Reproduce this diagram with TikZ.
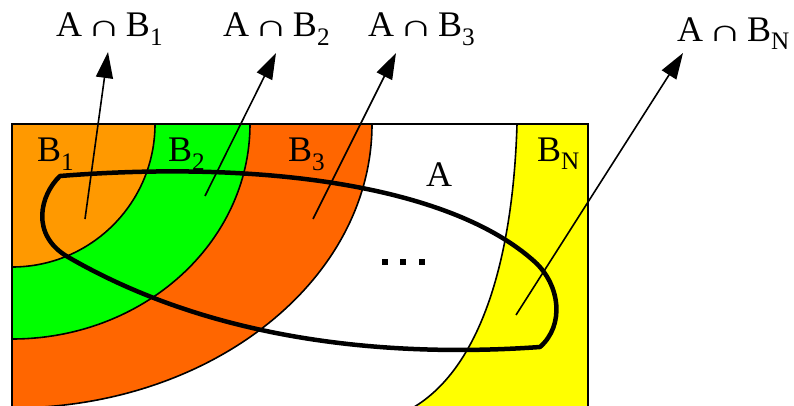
\documentclass[tikz,border=0pt]{standalone}
\usepackage{fontspec}
\setmainfont{Liberation Serif}
\usetikzlibrary{arrows.meta}
\definecolor{cBone}{RGB}{255,153,0}
\definecolor{cBtwo}{RGB}{0,255,0}
\definecolor{cBthree}{RGB}{255,102,0}
\definecolor{cBN}{RGB}{255,255,0}
\newcommand{\intsym}{\hspace{5pt}\scalebox{1.3}[0.85]{∩}\hspace{5pt}}
\tikzset{
  region/.style={draw=black, line width=1.6pt},
  setA/.style={draw=black, line width=4.5pt, line join=round},
  pointer/.style={draw=black, line width=1.6pt, -{Triangle[length=26pt,width=17pt]}},
  lbl/.style={anchor=base west, inner sep=0pt, font=\fontsize{36}{40}\selectfont},
}
\begin{document}
\begin{tikzpicture}[x=1pt,y=-1pt]
\useasboundingbox (0,0) rectangle (794,406);
\clip (0,0) rectangle (794,406);
% regions inside the box
\begin{scope}
  \clip (12,124) rectangle (588,420);
  \fill[cBthree] (12,124) ellipse [x radius=360, y radius=284];
  \fill[cBtwo] (12,124) ellipse [x radius=238, y radius=215];
  \fill[cBone] (12,124) ellipse [x radius=143, y radius=143];
  \draw[region] (12,124) ellipse [x radius=360, y radius=284];
  \draw[region] (12,124) ellipse [x radius=238, y radius=215];
  \draw[region] (12,124) ellipse [x radius=143, y radius=143];
  \fill[cBN] (517,124) -- (600,124) -- (600,420) -- (395,420) -- (405,412)
     .. controls (480,375) and (513,260) .. (517,124) -- cycle;
  \draw[region] (517,124) .. controls (513,260) and (480,375) .. (405,412);
\end{scope}
\draw[region] (12,430) -- (12,124) -- (588,124) -- (588,430);
% set A
\draw[setA] (60,176) .. controls (260,160) and (450,185) .. (535,262)
  .. controls (560,285) and (565,325) .. (540,347)
  .. controls (400,357) and (220,345) .. (68,257)
  .. controls (30,235) and (40,195) .. (60,176) -- cycle;
% dots
\foreach \dx in {385,403,422} \fill (\dx-3,259) rectangle (\dx+3,265);
% region labels
\node[lbl] (lB1) at (37,162) {B\textsubscript{1}};
\node[lbl] (lB2) at (168,162) {B\textsubscript{2}};
\node[lbl] (lB3) at (288,162) {B\textsubscript{3}};
\node[lbl] (lA) at (426,186) {A};
\node[lbl] (lBN) at (537,162) {B\textsubscript{N}};
% intersection labels
\node[lbl] (i1) at (56,37) {A\intsym B\textsubscript{1}};
\node[lbl] (i2) at (223,37) {A\intsym B\textsubscript{2}};
\node[lbl] (i3) at (368,37) {A\intsym B\textsubscript{3}};
\node[lbl] (iN) at (677,42) {A\intsym B\textsubscript{N}};
% pointers
\coordinate (s1) at (85,219);  \coordinate (t1) at (108,52);
\coordinate (s2) at (205,196); \coordinate (t2) at (276,53);
\coordinate (s3) at (313,219); \coordinate (t3) at (396,53);
\coordinate (sN) at (516,315); \coordinate (tN) at (683,53);
\draw[pointer] (s1) -- (t1);
\draw[pointer] (s2) -- (t2);
\draw[pointer] (s3) -- (t3);
\draw[pointer] (sN) -- (tN);
\end{tikzpicture}
\end{document}
